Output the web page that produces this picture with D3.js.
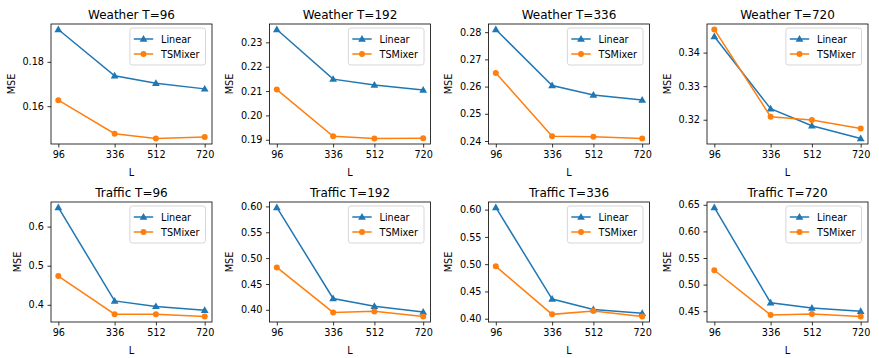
<!DOCTYPE html>
<html><head><meta charset="utf-8">
<script src="https://cdn.jsdelivr.net/npm/d3@7"></script>
<style>
html,body{margin:0;padding:0;background:#fff;}
svg{display:block;font-family:"DejaVu Sans",sans-serif;}
</style></head>
<body><svg id="c" width="879" height="358"></svg>
<script>
const lookbacks = [96, 336, 512, 720];
const horizons = [96, 192, 336, 720];
const datasets = ["Weather", "Traffic"];
const seriesNames = ["Linear", "TSMixer"];

const weatherLinear = [
  [0.1946, 0.1737, 0.1703, 0.1678],
  [0.2353, 0.2149, 0.2125, 0.2104],
  [0.2810, 0.2604, 0.2569, 0.2551],
  [0.3448, 0.3233, 0.3182, 0.3144]
];
const weatherTSMixer = [
  [0.1627, 0.1476, 0.1454, 0.1461],
  [0.2106, 0.1914, 0.1905, 0.1906],
  [0.2650, 0.2417, 0.2416, 0.2409],
  [0.3469, 0.3209, 0.3199, 0.3174]
];
const trafficLinear = [
  [0.649, 0.410, 0.396, 0.386],
  [0.598, 0.422, 0.407, 0.396],
  [0.604, 0.436, 0.417, 0.410],
  [0.645, 0.466, 0.456, 0.450]
];
const trafficTSMixer = [
  [0.4735, 0.376, 0.376, 0.370],
  [0.482, 0.395, 0.397, 0.387],
  [0.496, 0.408, 0.414, 0.404],
  [0.527, 0.443, 0.445, 0.440]
];
const weatherYTicks = [
  ["0.16", "0.18"],
  ["0.19", "0.20", "0.21", "0.22", "0.23"],
  ["0.24", "0.25", "0.26", "0.27", "0.28"],
  ["0.32", "0.33", "0.34"]
];
const trafficYTicks = [
  ["0.4", "0.5", "0.6"],
  ["0.40", "0.45", "0.50", "0.55", "0.60"],
  ["0.40", "0.45", "0.50", "0.55", "0.60"],
  ["0.45", "0.50", "0.55", "0.60", "0.65"]
];

const colors = ["#1f77b4", "#ff7f0e"];
const FS = 9.7, TFS = 12;
const lefts = [51, 269.5, 488.5, 707];
const tops = [24, 202];
const W = 161, H = 120;

const svg = d3.select("#c");

const rows = [
  {name: datasets[0], lin: weatherLinear, mix: weatherTSMixer, ticks: weatherYTicks},
  {name: datasets[1], lin: trafficLinear, mix: trafficTSMixer, ticks: trafficYTicks}
];

rows.forEach((row, r) => {
  horizons.forEach((h, c) => {
    const g = svg.append("g").attr("transform", `translate(${lefts[c]},${tops[r]})`);
    const series = [row.lin[c], row.mix[c]];
    const all = series.flat();
    const ymin = d3.min(all), ymax = d3.max(all), ym = (ymax - ymin) * 0.05;
    const xm = (720 - 96) * 0.05;
    const x = d3.scaleLinear().domain([96 - xm, 720 + xm]).range([0, W]);
    const y = d3.scaleLinear().domain([ymin - ym, ymax + ym]).range([H, 0]);

    const xAxis = d3.axisBottom(x).tickValues(lookbacks).tickSize(3.5).tickPadding(3.5).tickFormat(d3.format("d"));
    const gx = g.append("g").attr("transform", `translate(0,${H})`).call(xAxis);
    const tickVals = row.ticks[c].map(Number);
    const labels = row.ticks[c];
    const yAxis = d3.axisLeft(y).tickValues(tickVals).tickSize(3.5).tickPadding(3.5).tickFormat((d, i) => labels[i]);
    const gy = g.append("g").call(yAxis);
    [gx, gy].forEach(a => {
      a.select(".domain").remove();
      a.selectAll("line").attr("stroke", "#000").attr("stroke-width", 0.8);
      a.selectAll("text").attr("font-size", FS).attr("fill", "#000").attr("font-family", "DejaVu Sans");
    });
    const line = d3.line().x((d, i) => x(lookbacks[i])).y(d => y(d));
    series.forEach((s, k) => {
      g.append("path").attr("d", line(s)).attr("fill", "none")
        .attr("stroke", colors[k]).attr("stroke-width", 1.5);
      if (k === 0) {
        const tri = d3.symbol().type(d3.symbolTriangle).size(26);
        g.selectAll(null).data(s).enter().append("path")
          .attr("d", tri).attr("fill", colors[k])
          .attr("transform", (d, i) => `translate(${x(lookbacks[i])},${y(d) + 0.5})`);
      } else {
        g.selectAll(null).data(s).enter().append("circle")
          .attr("cx", (d, i) => x(lookbacks[i])).attr("cy", d => y(d))
          .attr("r", 3).attr("fill", colors[k]);
      }
    });
    g.append("rect").attr("x", 0).attr("y", 0).attr("width", W).attr("height", H)
      .attr("fill", "none").attr("stroke", "#000").attr("stroke-width", 0.8);
    g.append("text").attr("x", W / 2).attr("y", -5.5).attr("text-anchor", "middle")
      .attr("font-size", TFS).attr("fill", "#000").text(`${row.name} T=${h}`);
    g.append("text").attr("x", W / 2).attr("y", H + 32).attr("text-anchor", "middle")
      .attr("font-size", FS).attr("fill", "#000").text("L");
    let maxW = 0;
    gy.selectAll("text").each(function(){ maxW = Math.max(maxW, this.getBBox().width); });
    const lx = -7 - maxW - 7.5;
    g.append("text").attr("transform", `translate(${lx},${H / 2}) rotate(-90)`)
      .attr("text-anchor", "middle").attr("font-size", FS).attr("fill", "#000").text("MSE");

    const lg = g.append("g");
    const texts = seriesNames.map((n, k) => lg.append("text").attr("font-size", FS).attr("fill", "#000").text(n));
    let tw = 0;
    texts.forEach(t => tw = Math.max(tw, t.node().getBBox().width));
    const bw = 3.9 + 19.4 + 7.8 + tw + 5;
    const bx = W - 6.5 - bw, by = 4;
    lg.insert("rect", ":first-child").attr("x", bx).attr("y", by).attr("width", bw).attr("height", 37)
      .attr("rx", 2.5).attr("fill", "#fff").attr("fill-opacity", 0.8)
      .attr("stroke", "#cccccc").attr("stroke-width", 0.8);
    seriesNames.forEach((n, k) => {
      const cy = by + 11 + k * 15;
      lg.append("line").attr("x1", bx + 3.9).attr("x2", bx + 3.9 + 19.4).attr("y1", cy).attr("y2", cy)
        .attr("stroke", colors[k]).attr("stroke-width", 1.5);
      const mx = bx + 3.9 + 9.7;
      if (k === 0) {
        lg.append("path").attr("d", d3.symbol().type(d3.symbolTriangle).size(26)())
          .attr("fill", colors[k]).attr("transform", `translate(${mx},${cy + 0.5})`);
      } else {
        lg.append("circle").attr("cx", mx).attr("cy", cy).attr("r", 3).attr("fill", colors[k]);
      }
      texts[k].attr("x", bx + 3.9 + 19.4 + 7.8).attr("y", cy + 3.5);
    });
  });
});
</script>
</body></html>
